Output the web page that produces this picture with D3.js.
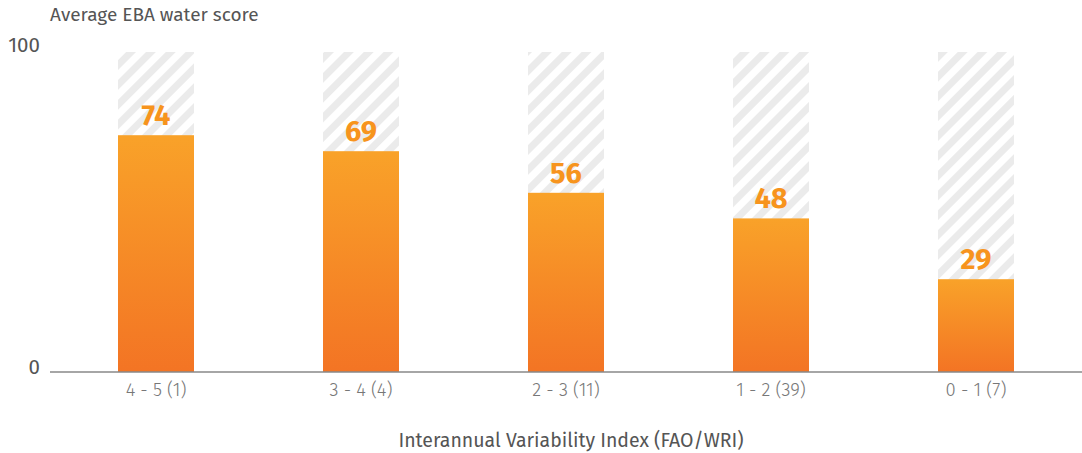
<!DOCTYPE html>
<html>
<head>
<meta charset="utf-8">
<script src="https://cdn.jsdelivr.net/npm/d3@7"></script>
<style>
  html, body { margin: 0; padding: 0; background: #fff; }
  svg { display: block; font-family: "Fira Sans", "Noto Sans", "Open Sans", sans-serif; }
</style>
</head>
<body>
<svg id="chart" width="1082" height="453"></svg>
<script>
// Interannual variability bands (number of economies) and average water score
const categories = ["4 - 5 (1)", "3 - 4 (4)", "2 - 3 (11)", "1 - 2 (39)", "0 - 1 (7)"];
const scores = [74, 69, 56, 48, 29];
const maxScore = 100;
const yTicks = [0, 100];

const svg = d3.select("#chart");
const W = 1082, H = 453;
const FONT = "\"Fira Sans\", \"Noto Sans\", \"Open Sans\", sans-serif";

const y = d3.scaleLinear().domain([0, maxScore]).range([372, 52]);
const x = d3.scaleBand().domain(categories).range([53.5, 1078.5])
  .paddingInner(0.6293).paddingOuter(0.6293 / 2);

const defs = svg.append("defs");

// diagonal hatch for the 0-100 backdrop
const pat = defs.append("pattern")
  .attr("id", "hatch")
  .attr("patternUnits", "userSpaceOnUse")
  .attr("width", 14).attr("height", 14)
  .attr("patternTransform", "rotate(45)");
pat.append("rect").attr("width", 14).attr("height", 14).attr("fill", "#ffffff");
pat.append("rect").attr("width", 7).attr("height", 14).attr("fill", "#ebebeb");

const grad = defs.append("linearGradient")
  .attr("id", "barGrad").attr("x1", 0).attr("y1", 0).attr("x2", 0).attr("y2", 1);
grad.append("stop").attr("offset", "0%").attr("stop-color", "#f9a229");
grad.append("stop").attr("offset", "100%").attr("stop-color", "#f37424");

// backdrop bars
svg.append("g").selectAll("rect")
  .data(categories)
  .join("rect")
  .attr("x", d => x(d))
  .attr("y", y(maxScore))
  .attr("width", x.bandwidth())
  .attr("height", y(0) - y(maxScore))
  .attr("fill", "url(#hatch)");

// value bars
svg.append("g").selectAll("rect")
  .data(scores)
  .join("rect")
  .attr("x", (d, i) => x(categories[i]))
  .attr("y", d => y(d))
  .attr("width", x.bandwidth())
  .attr("height", d => y(0) - y(d))
  .attr("fill", "url(#barGrad)");

// value labels
svg.append("g").selectAll("text")
  .data(scores)
  .join("text")
  .attr("x", (d, i) => x(categories[i]) + x.bandwidth() / 2)
  .attr("y", d => y(d) - 10)
  .attr("text-anchor", "middle")
  .attr("fill", "#f7941d")
  .attr("font-size", 29)
  .attr("font-weight", "bold")
  .text(d => d);

// baseline
svg.append("line")
  .attr("x1", 50).attr("x2", W)
  .attr("y1", y(0)).attr("y2", y(0))
  .attr("stroke", "#888").attr("stroke-width", 1.5);

// y tick labels
svg.append("g").selectAll("text")
  .data(yTicks)
  .join("text")
  .attr("x", 40)
  .attr("y", d => d === 0 ? y(d) - 5 : y(d) - 7)
  .attr("dy", "0.35em")
  .attr("text-anchor", "end")
  .attr("fill", "#555")
  .attr("font-size", 20.5)
  .text(d => d);

// x tick labels
const xAxis = d3.axisBottom(x).tickSize(0).tickPadding(11);
const gx = svg.append("g").attr("transform", `translate(0,${y(0)})`).call(xAxis);
gx.select(".domain").remove();
gx.selectAll("text")
  .attr("fill", "#777")
  .attr("font-size", 18.5)
  .attr("font-weight", 300)
  .attr("font-family", FONT);

// titles
svg.append("text")
  .attr("x", 50).attr("y", 21)
  .attr("fill", "#555").attr("font-size", 19)
  .text("Average EBA water score");

svg.append("text")
  .attr("x", 571).attr("y", 447)
  .attr("text-anchor", "middle")
  .attr("fill", "#555").attr("font-size", 19.5)
  .text("Interannual Variability Index (FAO/WRI)");
</script>
</body>
</html>
